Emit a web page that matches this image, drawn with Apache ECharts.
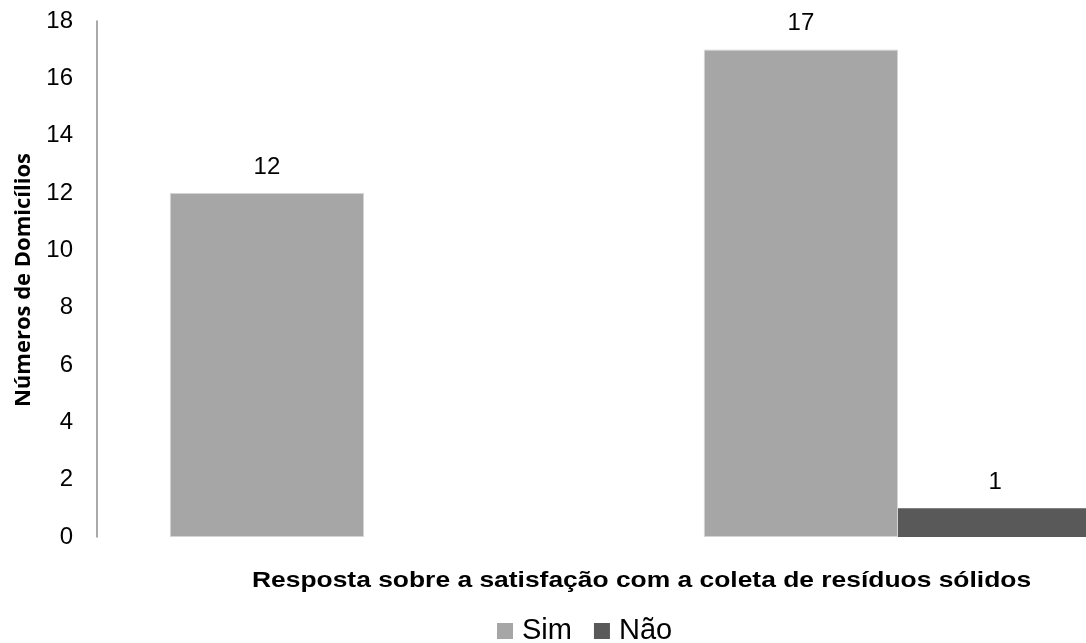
<!DOCTYPE html>
<html>
<head>
<meta charset="utf-8">
<script src="https://cdn.jsdelivr.net/npm/echarts@6/dist/echarts.min.js"></script>
<style>
  html, body { margin: 0; padding: 0; background: #fff; }
  #chart { width: 1086px; height: 643px; }
</style>
</head>
<body>
<div id="chart"></div>
<script>
// Respostas por grupo (categorias sem rótulo no eixo)
const categories = ['', ''];
const simValues = [12, 17];
const naoValues = [null, 1];
const yTicks = { min: 0, max: 18, interval: 2 };

const yAxisTitle = 'Números de Domicílios';
const xAxisTitle = 'Resposta sobre a satisfação com a coleta de resíduos sólidos';

const chart = echarts.init(document.getElementById('chart'), null, { renderer: 'canvas' });

const labelStyle = {
  show: true,
  position: 'top',
  distance: 14,
  color: '#000',
  fontFamily: 'Liberation Sans, Arial, sans-serif',
  fontSize: 24
};

chart.setOption({
  animation: false,
  backgroundColor: '#ffffff',
  // the plot runs past the right edge of the canvas
  grid: { left: 97, top: 21, width: 1068, height: 516, containLabel: false, outerBoundsMode: 'none' },
  xAxis: {
    type: 'category',
    data: categories,
    axisLine: { show: false },
    axisTick: { show: false },
    axisLabel: { show: false },
    splitLine: { show: false }
  },
  yAxis: {
    type: 'value',
    min: yTicks.min,
    max: yTicks.max,
    interval: yTicks.interval,
    axisLine: { show: true, lineStyle: { color: '#8c8c8c', width: 1.5 } },
    axisTick: { show: false },
    splitLine: { show: false },
    axisLabel: {
      color: '#000',
      fontFamily: 'Liberation Sans, Arial, sans-serif',
      fontSize: 24,
      margin: 24
    }
  },
  legend: {
    data: ['Sim', 'Não'],
    left: 497,
    top: 616,
    padding: 0,
    itemWidth: 16,
    itemHeight: 16,
    itemGap: 22,
    icon: 'rect',
    itemStyle: { borderWidth: 0 },
    textStyle: {
      color: '#000',
      fontFamily: 'Liberation Sans, Arial, sans-serif',
      fontSize: 29,
      lineHeight: 30,
      padding: [0, 0, 0, 4]
    }
  },
  graphic: [
    {
      type: 'text',
      x: 252,
      y: 581,
      scaleX: 1.2,
      style: {
        text: xAxisTitle,
        fill: '#000',
        align: 'left',
        verticalAlign: 'middle',
        font: 'bold 22px "Liberation Sans", Arial, sans-serif'
      }
    },
    {
      type: 'text',
      x: 24,
      y: 280,
      rotation: Math.PI / 2,
      style: {
        text: yAxisTitle,
        fill: '#000',
        align: 'center',
        verticalAlign: 'middle',
        font: 'bold 22px "Open Sans", sans-serif'
      }
    }
  ],
  series: [
    {
      name: 'Sim',
      type: 'bar',
      data: simValues,
      barGap: '0%',
      barCategoryGap: '27.3%',
      itemStyle: { color: '#a6a6a6', borderColor: '#d4d4d4', borderWidth: 1 },
      label: labelStyle
    },
    {
      name: 'Não',
      type: 'bar',
      data: naoValues,
      itemStyle: { color: '#595959' },
      label: labelStyle
    }
  ]
});
</script>
</body>
</html>
